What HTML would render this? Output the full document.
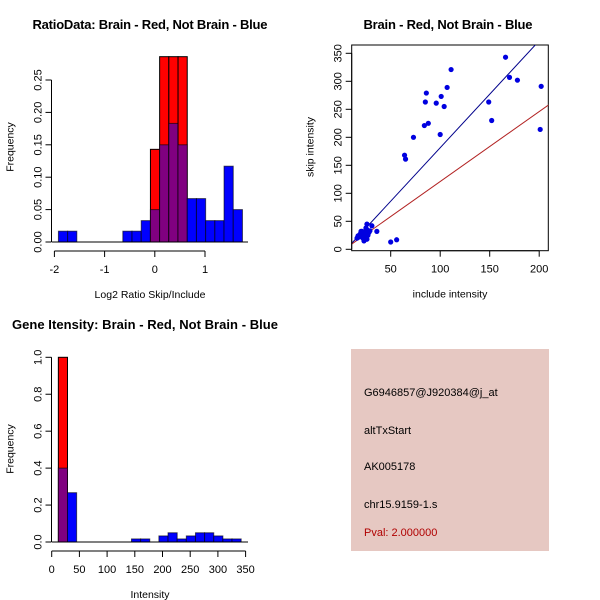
<!DOCTYPE html>
<html><head><meta charset="utf-8"><style>
body{margin:0;background:#fff;}
svg{display:block;font-family:"Liberation Sans",sans-serif;}
</style></head><body>
<svg id="s" width="600" height="600" viewBox="0 0 600 600" xmlns="http://www.w3.org/2000/svg">
<rect width="600" height="600" fill="#fff"/>
<text x="150" y="29" text-anchor="middle" font-size="13" font-weight="bold" textLength="235">RatioData: Brain - Red, Not Brain - Blue</text>
<text x="448" y="29" text-anchor="middle" font-size="13" font-weight="bold" textLength="169">Brain - Red, Not Brain - Blue</text>
<text x="145" y="329" text-anchor="middle" font-size="13" font-weight="bold" textLength="266">Gene Itensity: Brain - Red, Not Brain - Blue</text>
<g id="p1"></g>
<g id="p2"></g>
<g id="p3"></g>
<g>
<rect x="351" y="349" width="198" height="202" fill="#e6c8c2"/>
<text x="364" y="396" font-size="11">G6946857@J920384@j_at</text>
<text x="364" y="434" font-size="11">altTxStart</text>
<text x="364" y="470" font-size="11">AK005178</text>
<text x="364" y="508" font-size="11">chr15.9159-1.s</text>
<text x="364" y="536" font-size="11" fill="#b00000">Pval: 2.000000</text>
</g>
</svg>
<script>
// Ratio histogram data
const ratioStart=-1.92, ratioWidth=0.1833;
const ratioBlue=[0.0167,0.0167,0,0,0,0,0,0.0167,0.0167,0.033,0.05,0.15,0.183,0.15,0.067,0.067,0.033,0.033,0.117,0.05];
const ratioRed=[0,0,0,0,0,0,0,0,0,0,0.143,0.286,0.286,0.286,0,0,0,0,0,0];
const ratioXTicks=[-2,-1,0,1];
const ratioYTicks=[0,0.05,0.10,0.15,0.20,0.25];
const ratioYLabels=["0.00","0.05","0.10","0.15","0.20","0.25"];
// Scatter data
const incl=[166,111,170,178,202,107,86,101,85,149,96,104,152,88,84,201,100,73,64,65,36,56,50,31,26,18,20,22,21,24,26,25,27,23,28,19,22,25,29,17,24,26,21,16,20];
const skip=[343,321,307,302,291,289,279,273,263,263,261,255,230,225,221,214,205,200,168,161,32,17,13,42,45,22,25,28,32,30,35,20,25,15,30,27,20,38,33,24,26,18,30,20,32];
const blueLine=[1.91,-9.6];
const redLine=[1.25,-4];
const scXTicks=[50,100,150,200];
const scYTicks=[0,50,100,150,200,250,300,350];
// Intensity histogram data
const intStart=12, intWidth=16.5;
const intBlue=[0.4,0.267,0,0,0,0,0,0,0.0167,0.0167,0,0.033,0.05,0.0167,0.033,0.05,0.05,0.033,0.0167,0.0167];
const intRed=[1.0,0,0,0,0,0,0,0,0,0,0,0,0,0,0,0,0,0,0,0];
const intXTicks=[0,50,100,150,200,250,300,350];
const intYTicks=[0,0.2,0.4,0.6,0.8,1.0];
const intYLabels=["0.0","0.2","0.4","0.6","0.8","1.0"];

const NS="http://www.w3.org/2000/svg";
function mk(parent,tag,attrs,text){const e=document.createElementNS(NS,tag);for(const k in attrs)e.setAttribute(k,attrs[k]);if(text!==undefined)e.textContent=text;parent.appendChild(e);return e;}

function hist(g,o){
  const X=v=>o.x0+(v-o.xmin)*o.xs, Y=v=>o.y0-v*o.ys;
  for(let i=0;i<o.blue.length;i++){
    const l=X(o.start+i*o.w), r=X(o.start+(i+1)*o.w);
    const b=o.blue[i], rd=o.red[i];
    if(rd>0){const e=mk(g,'rect',{x:l,y:Y(rd),width:r-l,height:Y(0)-Y(rd),fill:'#ff0000',stroke:'#000','stroke-width':1});
      
      }
    if(b>0){const ov=rd>0;const e=mk(g,'rect',{x:l,y:Y(b),width:r-l,height:Y(0)-Y(b),fill:ov?'#800080':'#0000ff',stroke:'#000','stroke-width':1,'stroke-opacity':0.6});
      
      }
  }
  const base=mk(g,'line',{x1:o.bx1,x2:o.bx2,y1:Y(0),y2:Y(0),stroke:'#000'});
  
  
  axes(g,o,X,Y);
}
function axes(g,o,X,Y){
  const xa=mk(g,'line',{x1:X(o.xt[0]),x2:X(o.xt[o.xt.length-1]),y1:o.xaxY,y2:o.xaxY,stroke:'#000'});
  
  
  o.xt.forEach(t=>{mk(g,'line',{x1:X(t),x2:X(t),y1:o.xaxY,y2:o.xaxY+6,stroke:'#000'});
    const tx=mk(g,'text',{x:X(t),y:o.xaxY+22,'text-anchor':'middle','font-size':11},String(t));
    
    });
  const ya=mk(g,'line',{x1:o.yaxX,x2:o.yaxX,y1:Y(o.yt[0]),y2:Y(o.yt[o.yt.length-1]),stroke:'#000'});
  
  
  o.yt.forEach((t,i)=>{mk(g,'line',{x1:o.yaxX-6,x2:o.yaxX,y1:Y(t),y2:Y(t),stroke:'#000'});
    const tx=mk(g,'text',{x:0,y:0,'text-anchor':'middle','font-size':11,transform:`translate(${o.yaxX-10},${Y(t)}) rotate(-90)`},o.yl?o.yl[i]:String(t));
    
    });
  const xt=mk(g,'text',{x:o.xtitleX,y:o.xaxY+47,'text-anchor':'middle','font-size':10.5},o.xtitle);
  
  
  const yt=mk(g,'text',{x:0,y:0,'text-anchor':'middle','font-size':10.5,transform:`translate(${o.yaxX-38},${o.ytitleY}) rotate(-90)`},o.ytitle);
  
  
}

hist(document.getElementById('p1'),{x0:154.8,xmin:0,xs:50.2,y0:242,ys:648,start:ratioStart,w:ratioWidth,blue:ratioBlue,red:ratioRed,bx1:52,bx2:248,xt:ratioXTicks,yt:ratioYTicks,yl:ratioYLabels,xaxY:251,yaxX:51.5,xtitle:'Log2 Ratio Skip/Include',xtitleX:150,ytitle:'Frequency',ytitleY:147});
hist(document.getElementById('p3'),{x0:51.7,xmin:0,xs:0.554,y0:542,ys:184.7,start:intStart,w:intWidth,blue:intBlue,red:intRed,bx1:52,bx2:248,xt:intXTicks,yt:intYTicks,yl:intYLabels,xaxY:551,yaxX:51.5,xtitle:'Intensity',xtitleX:150,ytitle:'Frequency',ytitleY:449});

(function(){
  const g=document.getElementById('p2');
  const X=v=>341.2+v*0.99, Y=v=>249.3-v*0.56;
  const box=mk(g,'rect',{x:351.7,y:45,width:196.6,height:205.7,fill:'none',stroke:'#000'});
  
  
  const cp=mk(g,'clipPath',{id:'c2'});mk(cp,'rect',{x:351.7,y:45,width:196.6,height:205.7});
  const lg=mk(g,'g',{'clip-path':'url(#c2)'});
  const xl=5,xr=215;
  const bl=mk(lg,'line',{x1:X(xl),y1:Y(blueLine[0]*xl+blueLine[1]),x2:X(xr),y2:Y(blueLine[0]*xr+blueLine[1]),stroke:'#00008b'});
  
  
  const rl=mk(lg,'line',{x1:X(xl),y1:Y(redLine[0]*xl+redLine[1]),x2:X(xr),y2:Y(redLine[0]*xr+redLine[1]),stroke:'#b22222'});
  
  
  for(let i=0;i<incl.length;i++){const c=mk(g,'circle',{cx:X(incl[i]),cy:Y(skip[i]),r:2.6,fill:'#0000e0'});
    
    }
  axes(g,{xt:scXTicks,yt:scYTicks,xaxY:250.7,yaxX:351.7,xtitle:'include intensity',xtitleX:450,ytitle:'skip intensity',ytitleY:147},X,Y);
})();
</script>
</body></html>
